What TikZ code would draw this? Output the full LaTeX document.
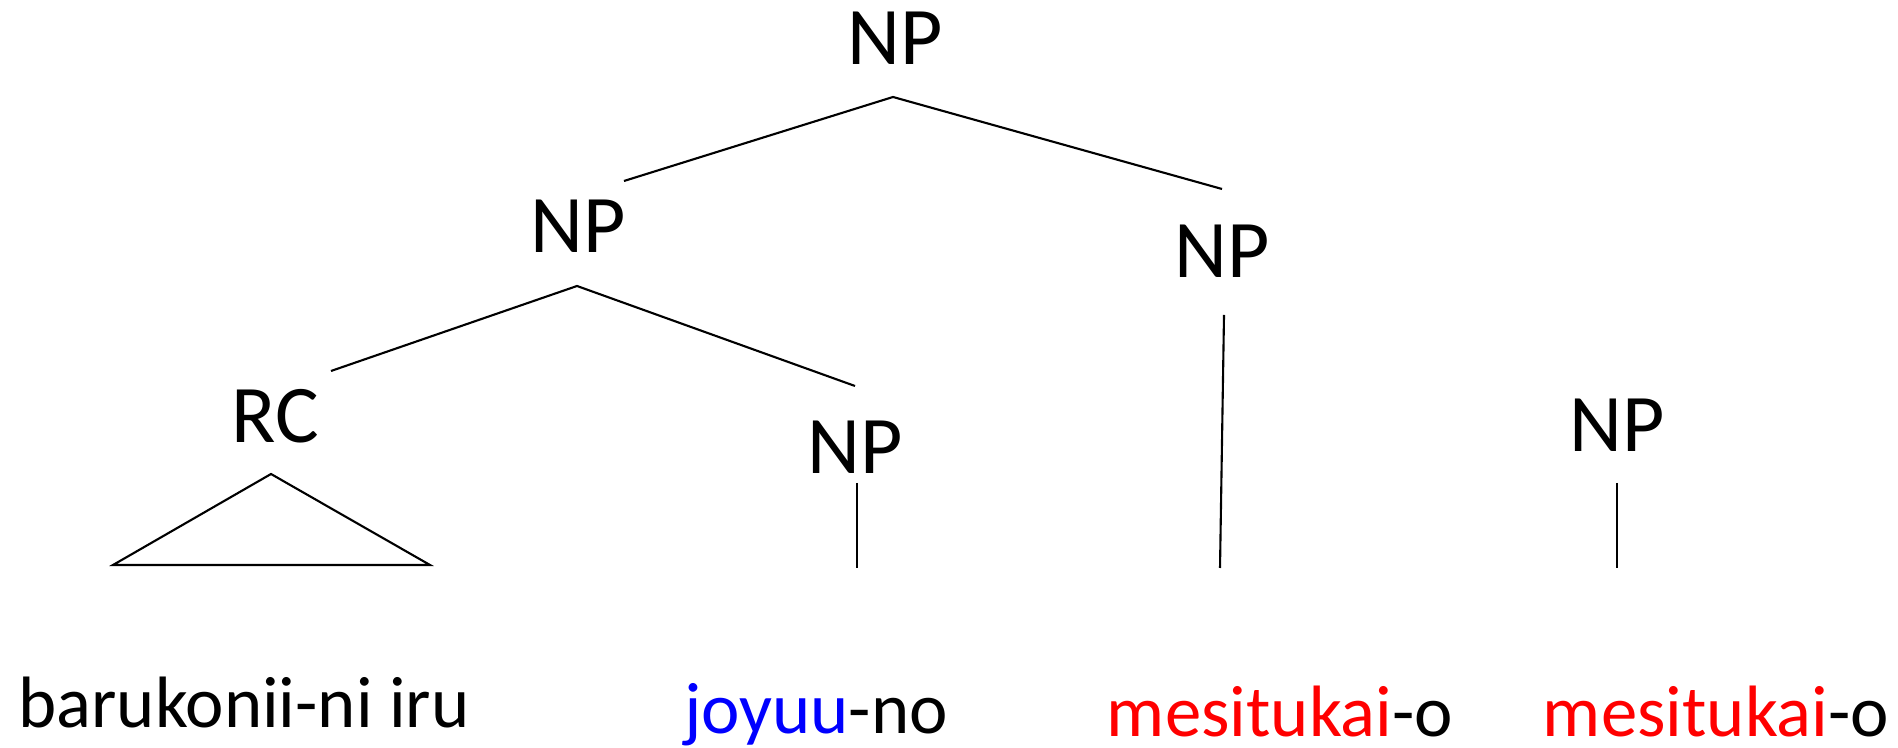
\documentclass[tikz,border=0pt]{standalone}
\usepackage{fontspec}
\setmainfont{Carlito}

\tikzset{
  cat/.style={inner sep=0pt, font=\fontsize{23.3}{28}\selectfont},
  word/.style={inner sep=0pt, anchor=base, font=\fontsize{20.7}{25}\selectfont},
  branch/.style={line width=0.6pt},
}

\begin{document}
\begin{tikzpicture}[x=0.1mm, y=-0.1mm]
\useasboundingbox (0,0) rectangle (1898,748);

% categories
\node[cat] (np-top) at (895,38) {NP};
\node[cat] (np-l) at (578,226) {NP};
\node[cat] (np-r) at (1222,251) {NP};
\node[cat] (rc) at (275,416) {RC};
\node[cat] (np-j) at (855,447) {NP};
\node[cat] (np-m) at (1617,425) {NP};

% leaves
\node[word] (w-rc) at (244,728) {barukonii-ni iru};
\node[word] (w-j) at (816,734) {{\color{blue}joyuu}-no};
\node[word] (w-m) at (1280,737) {{\color{red}mesitukai}-o};
\node[word] (w-m2) at (1716,737) {{\color{red}mesitukai}-o};

\coordinate (j-foot) at (857,568);
\coordinate (m-foot) at (1220,568);
\coordinate (m2-foot) at (1617,568);
\coordinate (tri-l) at (113,565);
\coordinate (tri-r) at (430,565);

% branches
\draw[branch] ([shift={(46,-45)}]np-l.center) -- ([shift={(-2,59)}]np-top.center)
  -- ([shift={(0,-62)}]np-r.center);
\draw[branch] ([shift={(56,-45)}]rc.center) -- ([shift={(-1,60)}]np-l.center)
  -- ([shift={(0,-61)}]np-j.center);
\draw[branch] ([shift={(2,64)}]np-r.center) -- (m-foot);
\draw[branch] ([shift={(2,36)}]np-j.center) -- (j-foot);
\draw[branch] ([shift={(0,58)}]np-m.center) -- (m2-foot);

% triangle under RC
\draw[branch] ([shift={(-4,58)}]rc.center) -- (tri-l) -- (tri-r) -- cycle;
\end{tikzpicture}
\end{document}
